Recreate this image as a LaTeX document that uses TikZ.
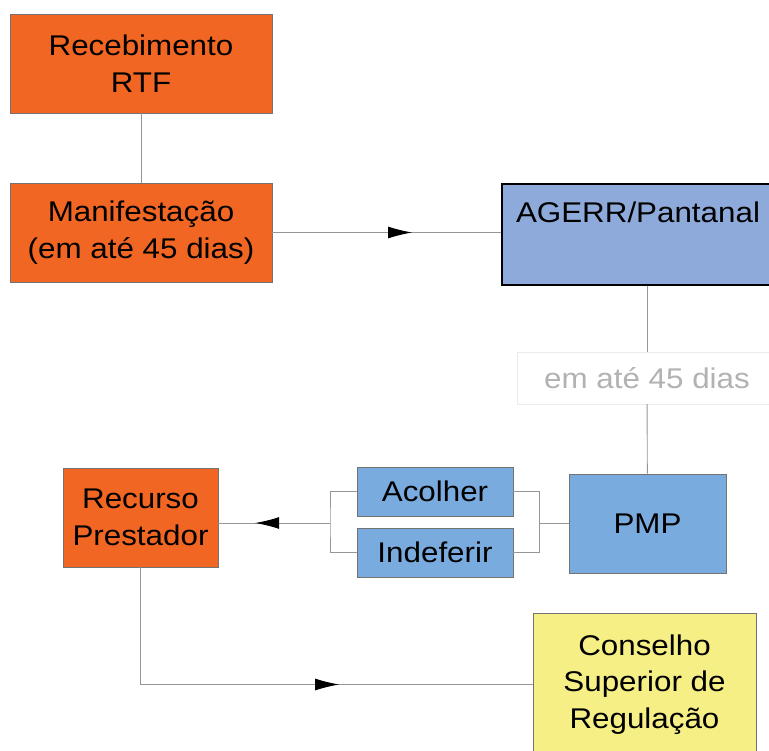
\documentclass[tikz,border=0pt]{standalone}
\usepackage{fontspec}
\setmainfont{Liberation Sans}[FakeStretch=1.1]
\usetikzlibrary{arrows.meta, decorations.markings, calc}
\usepackage{xcolor}
\definecolor{myorange}{RGB}{242,102,36}
\definecolor{myblue}{RGB}{142,170,219}
\definecolor{mylightblue}{RGB}{122,171,222}
\definecolor{myyellow}{RGB}{245,239,133}
\definecolor{mygray}{RGB}{150,150,150}

\begin{document}
\begin{tikzpicture}[x=1pt,y=-1pt,font=\fontsize{28.5}{36.5}\selectfont,
  box/.style={draw=black!55, line width=0.8pt, align=center, inner sep=0pt},
  conn/.style={draw=mygray, line width=0.9pt},
  flow/.style={postaction={decorate},
    decoration={markings, mark=at position #1 with {\arrow{Latex[length=24pt,width=12pt,black]}}}}]
  \useasboundingbox (0,0) rectangle (769,751);
  \node[box, fill=myorange, minimum width=262, minimum height=99]    (RTF)       at (141,63.5)    {Recebimento\\RTF};
  \node[box, fill=myorange, minimum width=262, minimum height=99]    (Manif)     at (141,232.5)   {Manifestação\\(em até 45 dias)};
  \node[box, draw=black, line width=1.3pt, fill=myblue, minimum width=272, minimum height=101,
        label={[anchor=center, yshift=-29pt]north:AGERR/Pantanal}]  (AGERR)     at (638,234.5)   {};
  \node[draw=black!8, text=black!30, fill=white, minimum width=260, minimum height=52, inner sep=0pt]
                                                                     (Days)      at (647,378)     {em até 45 dias};
  \node[box, fill=mylightblue, minimum width=157, minimum height=99] (PMP)       at (647.5,523.5) {PMP};
  \node[box, fill=mylightblue, minimum width=156, minimum height=49] (Acolher)   at (435,491.5)   {Acolher};
  \node[box, fill=mylightblue, minimum width=156, minimum height=49] (Indeferir) at (435,552.5)   {Indeferir};
  \node[box, fill=myorange, minimum width=155, minimum height=99]    (Recurso)   at (140.5,517.5) {Recurso\\Prestador};
  \node[box, fill=myyellow, minimum width=223, minimum height=143]   (Conselho)  at (644.5,684.5) {Conselho\\Superior de\\Regulação};
  \coordinate (JR) at (539,523);
  \coordinate (JL) at (330,523);
  \draw[conn] (RTF) -- (Manif);
  \draw[conn, flow=0.61] (Manif.east) -- (Manif.east -| AGERR.west);
  \draw[conn] (AGERR.south -| Days) -- (Days);
  \draw[conn] (Days) -- (PMP);
  \draw[conn] (PMP.west |- JR) -- (JR) |- (Acolher.east);
  \draw[conn] (JR) |- (Indeferir.east);
  \draw[conn] (Acolher.west) -| (JL) |- (Indeferir.west);
  \draw[conn, flow=0.67] (JL) -- (JL -| Recurso.east);
  \draw[conn, flow=0.62] (Recurso.south) |- (Conselho.west);
\end{tikzpicture}
\end{document}
